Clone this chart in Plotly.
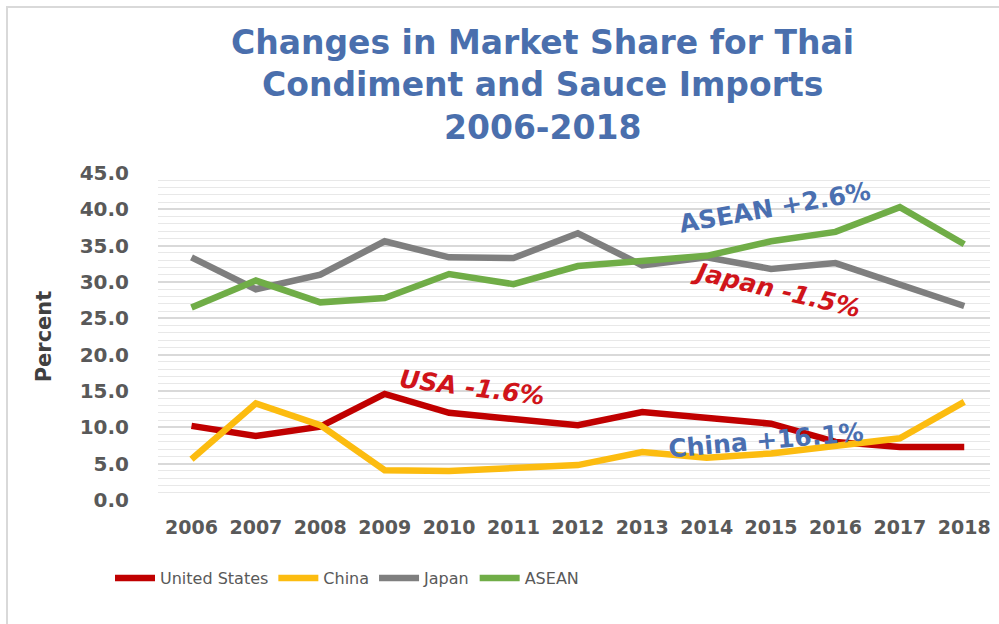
import plotly.graph_objects as go

years = ["2006", "2007", "2008", "2009", "2010", "2011", "2012",
         "2013", "2014", "2015", "2016", "2017", "2018"]
usa = [10.2, 8.8, 10.1, 14.6, 12.0, 11.1, 10.3, 12.1, 11.3, 10.5, 8.0, 7.3, 7.3]
china = [5.6, 13.3, 10.3, 4.1, 4.0, 4.5, 4.8, 6.6, 5.8, 6.4, 7.4, 8.5, 13.5]
japan = [33.4, 29.0, 31.0, 35.6, 33.4, 33.3, 36.7, 32.3, 33.4, 31.8, 32.6, 29.6, 26.7]
asean = [26.5, 30.2, 27.2, 27.8, 31.1, 29.7, 32.2, 32.9, 33.6, 35.6, 36.9, 40.3, 35.2]

series = [
    ("United States", usa, "#c00000"),
    ("China", china, "#fcbc10"),
    ("Japan", japan, "#7f7f7f"),
    ("ASEAN", asean, "#70ad47"),
]

y_ticks = [0, 5, 10, 15, 20, 25, 30, 35, 40, 45]
y_tick_labels = ["%.1f" % v for v in y_ticks]

title_lines = ["Changes in Market Share for Thai", "Condiment and Sauce Imports", "2006-2018"]

# text, x (category index), y (percent), angle, colour, italic
notes = [
    ("ASEAN +2.6%", 9.06, 40.3, -10, "#4a6fb0", False),
    ("Japan -1.5%", 9.07, 28.9, 13, "#d0141a", True),
    ("USA -1.6%", 4.35, 15.5, 7, "#d0141a", True),
    ("China +16.1%", 8.92, 8.25, -5, "#4a6fb0", False),
]

fig = go.Figure()
for name, vals, color in series:
    fig.add_trace(go.Scatter(
        x=list(range(len(years))), y=vals, name=name, mode="lines",
        line=dict(color=color, width=6.5),
    ))

W, H = 999, 624
L, R, T, B = 158, 9, 173, 124
pw = W - L - R
ph = H - T - B

def px_to_paper_x(px):
    return (px - L) / pw

def px_to_paper_y(py):
    return (H - B - py) / ph

annotations = []
for line, py in zip(title_lines, [42, 85, 128]):
    annotations.append(dict(
        text="<b>%s</b>" % line, x=px_to_paper_x(542), y=px_to_paper_y(py),
        xref="paper", yref="paper", showarrow=False, xanchor="center", yanchor="middle",
        font=dict(family="DejaVu Sans", size=33, color="#4a6fad"),
    ))
for text, x, y, ang, col, ital in notes:
    t = "<b>%s</b>" % text
    if ital:
        t = "<i>%s</i>" % t
    annotations.append(dict(
        text=t, x=x, y=y, xref="x", yref="y", showarrow=False,
        textangle=ang, font=dict(family="DejaVu Sans", size=25, color=col),
    ))

fig.update_layout(
    width=W, height=H,
    margin=dict(l=L, r=R, t=T, b=B),
    paper_bgcolor="white", plot_bgcolor="white",
    showlegend=True,
    legend=dict(orientation="h", x=px_to_paper_x(110), y=px_to_paper_y(578),
                xanchor="left", yanchor="middle",
                font=dict(family="DejaVu Sans", size=16, color="#595959"),
                itemwidth=40, tracegroupgap=0),
    annotations=annotations,
    shapes=[dict(type="rect", xref="paper", yref="paper",
                 x0=px_to_paper_x(7), x1=px_to_paper_x(1020),
                 y0=px_to_paper_y(7), y1=px_to_paper_y(660),
                 line=dict(color="#d9d9d9", width=2), layer="below")],
    xaxis=dict(
        tickmode="array", tickvals=list(range(len(years))),
        ticktext=["<b>%s</b>" % y for y in years],
        range=[-0.52, 12.4], showgrid=False, zeroline=False, showline=False,
        tickfont=dict(family="DejaVu Sans", size=19, color="#595959"),
        ticks="", ticklabelstandoff=14,
    ),
    yaxis=dict(
        range=[0, 45], tickmode="array", tickvals=y_ticks,
        ticktext=["<b>%s</b>" % t for t in y_tick_labels],
        showgrid=True, gridcolor="#d9d9d9", gridwidth=1.5, zeroline=False,
        minor=dict(dtick=1, showgrid=True, gridcolor="#e8e8e8", gridwidth=1),
        tickfont=dict(family="DejaVu Sans", size=20, color="#595959"),
        ticks="", ticklabelstandoff=28,
        title=dict(text="<b>Percent</b>", font=dict(family="DejaVu Sans", size=21, color="#404040"),
                   standoff=22),
    ),
)

fig.write_html("out.html", config={"displayModeBar": False},
               post_script="document.body.style.margin='0px';")
